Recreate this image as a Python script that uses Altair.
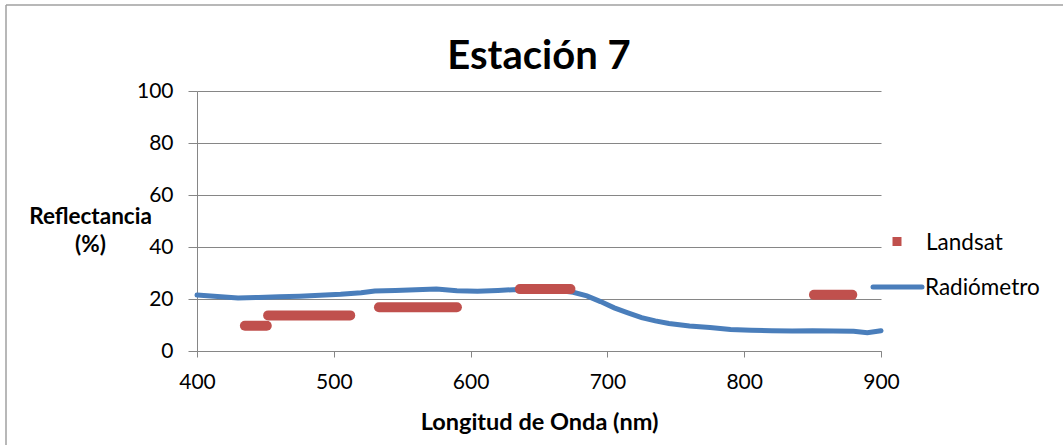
import altair as alt
import pandas as pd

# Landsat OLI bands: band edges (nm) and surface reflectance (%)
band_start = [435, 452, 533, 636, 851]
band_end = [451, 512, 590, 673, 879]
landsat_refl = [9.7, 13.7, 16.8, 23.8, 21.6]

# Field radiometer spectrum: wavelength (nm) and reflectance (%)
wavelength = [400, 415, 430, 445, 460, 475, 490, 505, 520, 530, 545, 560, 575,
              590, 605, 620, 635, 650, 665, 675, 685, 695, 705, 715, 725, 735,
              745, 760, 775, 790, 805, 820, 835, 850, 865, 880, 890, 900]
radiometer = [21.5, 21.0, 20.4, 20.6, 20.9, 21.1, 21.4, 21.8, 22.4, 23.1, 23.3,
              23.6, 23.8, 23.2, 23.0, 23.3, 23.7, 23.6, 23.3, 22.6, 21.2, 19.0,
              16.6, 14.7, 12.8, 11.6, 10.6, 9.6, 9.0, 8.3, 8.0, 7.8, 7.7, 7.8,
              7.7, 7.6, 7.0, 7.8]

chart_title = "Estación 7"
series_names = ["Landsat", "Radiómetro"]
x_ticks = [400, 500, 600, 700, 800, 900]
y_ticks = [0, 20, 40, 60, 80, 100]

RED = "#c0504d"
BLUE = "#4a7ebb"
GRID = "#868686"
FONT = "Lato"

W, H = 684, 260

bands = pd.DataFrame({"start": band_start, "end": band_end, "refl": landsat_refl})
spectrum = pd.DataFrame({"wl": wavelength, "refl": radiometer})
one = pd.DataFrame({"k": [0]})

x_scale = alt.Scale(domain=[400, 900], nice=False)
y_scale = alt.Scale(domain=[0, 100], nice=False)

x_axis = alt.Axis(values=x_ticks, grid=False, domainColor=GRID, tickColor=GRID,
                  tickSize=6, labelFontSize=21, labelPadding=14, labelFont=FONT,
                  labelColor="#000000", labelFlush=False,
                  title="Longitud de Onda (nm)",
                  titleFont=FONT, titleFontSize=23.5, titleFontWeight="bold",
                  titleColor="#000000", titlePadding=18)
y_axis = alt.Axis(values=y_ticks, grid=True, gridColor=GRID, domainColor=GRID,
                  tickColor=GRID, tickSize=9, labelFontSize=21, labelPadding=15,
                  labelFont=FONT, labelColor="#000000", labelFlush=False,
                  title=["Reflectancia", "(%)"], titleAngle=0, titleAlign="center",
                  titleBaseline="alphabetic", titleX=-107, titleY=132,
                  titleLineHeight=28, titleFont=FONT, titleFontSize=22.5,
                  titleFontWeight="bold", titleColor="#000000")

spec_line = alt.Chart(spectrum).mark_line(color=BLUE, strokeWidth=5, strokeCap="round").encode(
    x=alt.X("wl:Q", scale=x_scale, axis=x_axis),
    y=alt.Y("refl:Q", scale=y_scale, axis=y_axis),
)

band_bars = alt.Chart(bands).mark_rule(color=RED, strokeWidth=10, strokeCap="round").encode(
    x=alt.X("start:Q", scale=x_scale),
    x2="end:Q",
    y=alt.Y("refl:Q", scale=y_scale),
)

# chart-area frame (top and left edges)
frame_top = alt.Chart(one).mark_rule(color="#a0a0a0", strokeWidth=1.5).encode(
    x=alt.value(-191), x2=alt.value(870), y=alt.value(-86))
frame_left = alt.Chart(one).mark_rule(color="#a0a0a0", strokeWidth=1.5).encode(
    x=alt.value(-191), y=alt.value(-86), y2=alt.value(360))

# chart title
title_text = alt.Chart(one).mark_text(align="center", baseline="alphabetic", fontSize=40,
                                      fontWeight="bold", font=FONT, color="#000000").encode(
    x=alt.value(W / 2), y=alt.value(-22), text=alt.value(chart_title))

# legend
leg_square = alt.Chart(one).mark_square(color=RED, size=81, opacity=1).encode(
    x=alt.value(700), y=alt.value(150.5))
leg_line = alt.Chart(one).mark_rule(color=BLUE, strokeWidth=5, strokeCap="round").encode(
    x=alt.value(676), x2=alt.value(725), y=alt.value(196))
leg_text1 = alt.Chart(one).mark_text(align="left", baseline="alphabetic", fontSize=22.5,
                                     font=FONT, color="#000000").encode(
    x=alt.value(729), y=alt.value(159), text=alt.value(series_names[0]))
leg_text2 = alt.Chart(one).mark_text(align="left", baseline="alphabetic", fontSize=22.5,
                                     font=FONT, color="#000000").encode(
    x=alt.value(728), y=alt.value(204), text=alt.value(series_names[1]))

chart = alt.layer(
    spec_line, band_bars, frame_top, frame_left, title_text,
    leg_square, leg_line, leg_text1, leg_text2,
).properties(
    width=W, height=H,
    autosize=alt.AutoSizeParams(type="none"),
    padding={"left": 197, "top": 91, "right": 182, "bottom": 94},
    background="white",
).configure_view(strokeWidth=0)

chart.save("out.html", embed_options={"renderer": "svg", "actions": False})
